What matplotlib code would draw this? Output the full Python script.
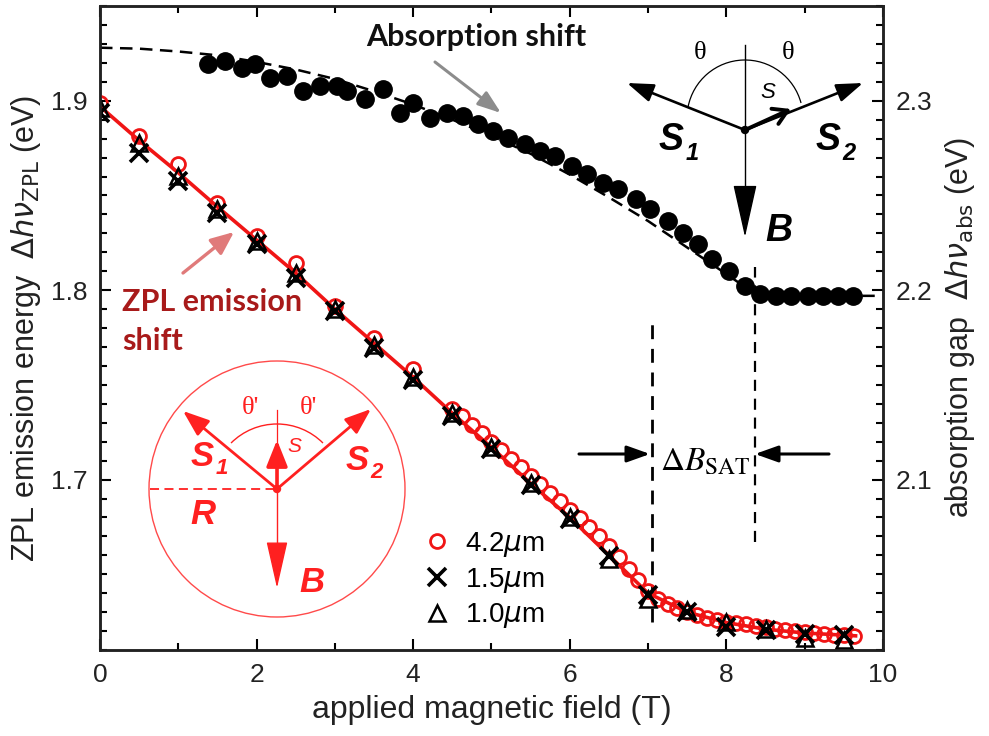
import matplotlib
matplotlib.use("Agg")
import matplotlib.pyplot as plt
from matplotlib.patches import Arc, Circle
from matplotlib.ticker import MultipleLocator, FormatStrFormatter

plt.rcParams["font.family"] = ["Liberation Sans", "DejaVu Sans"]

# --- ZPL emission energy (left axis, eV) ---
b_step = [0.0, 0.5, 1.0, 1.5, 2.0, 2.5, 3.0, 3.5, 4.0, 4.5,
          5.0, 5.5, 6.0, 6.5, 7.0, 7.5, 8.0, 8.5, 9.0, 9.5]
zpl_15 = [1.8937, 1.8725, 1.8577, 1.8407, 1.8243, 1.8063, 1.789, 1.7693, 1.7525, 1.7333,
          1.7162, 1.697, 1.679, 1.6598, 1.6392, 1.6302, 1.6222, 1.6206, 1.6185, 1.618]
zpl_10 = [1.896, 1.8778, 1.8603, 1.843, 1.826, 1.809, 1.790, 1.771, 1.754, 1.735,
          1.717, 1.698, 1.680, 1.658, 1.637, 1.631, 1.625, 1.621, 1.6165, 1.6155]

b_42 = [0.0, 0.5, 1.0, 1.5, 2.0, 2.5, 3.0, 3.5, 4.0, 4.5,
        4.625, 4.75, 4.875, 5.0, 5.125, 5.25, 5.375, 5.5, 5.625, 5.75,
        5.875, 6.0, 6.125, 6.25, 6.375, 6.5, 6.625, 6.75, 6.875, 7.0,
        7.125, 7.25, 7.375, 7.5, 7.625, 7.75, 7.875, 8.0, 8.125, 8.25,
        8.375, 8.5, 8.625, 8.75, 8.875, 9.0, 9.125, 9.25, 9.375, 9.5, 9.625]
zpl_42 = [1.899, 1.8815, 1.8667, 1.846, 1.8286, 1.8143, 1.7915, 1.7746, 1.7582, 1.737,
          1.7335, 1.729, 1.7245, 1.720, 1.7155, 1.711, 1.7065, 1.702, 1.6975, 1.693,
          1.6885, 1.684, 1.6795, 1.675, 1.670, 1.665, 1.659, 1.653, 1.647, 1.641,
          1.637, 1.6345, 1.632, 1.630, 1.6285, 1.627, 1.626, 1.625, 1.6242, 1.6235,
          1.6228, 1.622, 1.6213, 1.6207, 1.620, 1.6195, 1.619, 1.6185, 1.618, 1.6177, 1.6175]

b_zpl_fit = [0.0, 0.5, 1.0, 1.5, 2.0, 2.5, 3.0, 3.5, 4.0, 4.5,
             5.0, 5.5, 6.0, 6.5, 7.0, 7.5, 8.0, 8.5, 9.0, 9.65]
zpl_fit = [1.897, 1.879, 1.862, 1.844, 1.8265, 1.809, 1.790, 1.772, 1.754, 1.735,
           1.717, 1.698, 1.680, 1.660, 1.640, 1.630, 1.6245, 1.621, 1.619, 1.6175]

# --- absorption gap (right axis, eV) ---
b_abs = [1.38, 1.60, 1.81, 1.98, 2.17, 2.39, 2.59, 2.81, 3.03, 3.16,
         3.39, 3.62, 3.83, 4.00, 4.22, 4.43, 4.63, 4.83, 5.02, 5.21,
         5.43, 5.62, 5.81, 6.03, 6.22, 6.42, 6.62, 6.84, 7.03, 7.25,
         7.44, 7.64, 7.82, 8.03, 8.24, 8.43, 8.63, 8.82, 9.04, 9.23, 9.43, 9.62]
abs_gap = [2.3196, 2.3212, 2.3175, 2.3196, 2.3122, 2.3132, 2.3053, 2.3079, 2.3079, 2.3053,
           2.3011, 2.3063, 2.2937, 2.2989, 2.2910, 2.2937, 2.2921, 2.2878, 2.2841, 2.2804,
           2.2772, 2.2735, 2.2709, 2.2656, 2.2614, 2.2566, 2.2534, 2.2481, 2.2429, 2.2365,
           2.2302, 2.2243, 2.2164, 2.2101, 2.2021, 2.1979, 2.197, 2.197, 2.197, 2.197, 2.197, 2.197]

b_abs_fit = [0.0, 0.5, 1.0, 1.5, 2.0, 2.5, 3.0, 3.5, 4.0, 4.5,
             5.0, 5.5, 6.0, 6.5, 7.0, 7.5, 8.0, 8.4, 9.9]
abs_fit = [2.328, 2.3275, 2.326, 2.324, 2.3205, 2.3165, 2.3115, 2.305, 2.298, 2.290,
           2.2815, 2.272, 2.261, 2.249, 2.2365, 2.2225, 2.2085, 2.197, 2.197]

legend_labels = ["4.2$\\mu$m", "1.5$\\mu$m", "1.0$\\mu$m"]

# saturation field markers (left-axis units)
B_SAT_LO, B_SAT_HI = 7.05, 8.37

RED = "#f01515"

fig = plt.figure(figsize=(9.89, 7.36), dpi=100)
ax = fig.add_axes([0.1011, 0.1168, 0.7917, 0.875])
ax2 = ax.twinx()

ax.plot(b_zpl_fit, zpl_fit, color=RED, lw=2.6, zorder=2)
h42, = ax.plot(b_42, zpl_42, "o", ms=10, mfc="none", mec=RED, mew=2.0, zorder=3)
h10, = ax.plot(b_step, zpl_10, "^", ms=12, mfc="none", mec="k", mew=1.8, zorder=4)
h15, = ax.plot(b_step, zpl_15, "x", ms=13, mec="k", mew=2.6, zorder=5)

ax2.plot(b_abs_fit, abs_fit, color="k", lw=1.8, ls=(0, (5, 3)), zorder=2)
ax2.plot(b_abs, abs_gap, "o", ms=12.5, color="k", zorder=3)

ax.plot([B_SAT_LO, B_SAT_LO], [1.625, 1.784], color="k", lw=2.0, ls=(0, (5, 3.5)))
ax.plot([B_SAT_HI, B_SAT_HI], [1.667, 1.812], color="k", lw=1.6, ls=(0, (5, 3.5)))

ax.set_xlim(0, 10)
ax.set_ylim(1.61, 1.95)
ax2.set_ylim(2.01, 2.35)

ax.xaxis.set_major_locator(MultipleLocator(2))
ax.xaxis.set_minor_locator(MultipleLocator(1))
for a in (ax, ax2):
    a.yaxis.set_major_locator(MultipleLocator(0.1))
    a.yaxis.set_minor_locator(MultipleLocator(0.01))
    a.yaxis.set_major_formatter(FormatStrFormatter("%.1f"))
    for s in a.spines.values():
        s.set_linewidth(1.8)
        s.set_color("#222222")

ax.tick_params(which="both", direction="in", top=True, right=False, width=1.5,
               labelsize=19, labelcolor="#222222", pad=9)
ax.tick_params(which="major", length=8)
ax.tick_params(which="minor", length=5)
ax2.tick_params(which="both", direction="in", width=1.5, labelsize=19,
                labelcolor="#222222", pad=9)
ax2.tick_params(which="major", length=8)
ax2.tick_params(which="minor", length=5)

ax.set_xlabel("applied magnetic field (T)", fontsize=23, color="#222222", labelpad=6)
ax.set_ylabel("ZPL emission energy  $\\Delta h\\nu_{\\rm ZPL}$ (eV)", fontsize=22,
              color="#222222", labelpad=6)
ax2.set_ylabel("absorption gap  $\\Delta h\\nu_{\\rm abs}$ (eV)", fontsize=22,
               color="#222222", labelpad=8)

leg = ax.legend([h42, h15, h10], legend_labels, loc="upper left",
                bbox_to_anchor=(0.413, 0.187), frameon=False, fontsize=20,
                handlelength=1.0, handletextpad=0.5, labelspacing=0.25,
                borderpad=0, borderaxespad=0)

# ---- overlay in reference pixel coordinates for the sketches ----
ov = fig.add_axes([0, 0, 1, 1], zorder=10)
ov.set_xlim(0, 989)
ov.set_ylim(736, 0)
ov.axis("off")


def arrow(p0, p1, color, lw, style="-|>", hl=1.0, hw=0.35, ms=20):
    ov.annotate("", xy=p1, xytext=p0,
                arrowprops=dict(arrowstyle=f"{style},head_length={hl},head_width={hw}",
                                lw=lw, color=color, mutation_scale=ms,
                                shrinkA=0, shrinkB=0))


# labels with arrows
ov.text(476, 37, "Absorption shift", fontsize=22, fontweight="bold",
        family="Lato", color="#111111", ha="center", va="center")
arrow((435, 62), (501, 113), "#8c8c8c", 2.2, hl=0.7, hw=0.25)
ov.text(122, 302, "ZPL emission", fontsize=22, fontweight="bold",
        family="Lato", color="#a81a1a", ha="left", va="center")
ov.text(122, 341, "shift", fontsize=22, fontweight="bold",
        family="Lato", color="#a81a1a", ha="left", va="center")
arrow((183, 273), (234, 232), "#e07a7a", 2.4, hl=0.7, hw=0.3)

# Delta B_SAT
ov.text(705, 462, "$\\Delta B_{\\mathrm{SAT}}$", fontsize=24, color="k",
        ha="center", va="center", math_fontfamily="stix")
arrow((579, 454), (650, 454), "k", 2.2, hl=0.7, hw=0.25)
arrow((829, 454), (755, 454), "k", 2.2, hl=0.7, hw=0.25)

# black spin sketch (top right)
c = (745, 130)
ov.plot([745, 745], [45, 205], color="k", lw=1.0)
arrow((745, 200), (745, 237), "k", 1.0, hl=1.7, hw=0.38)
arrow(c, (627, 83), "k", 1.9, hl=0.8, hw=0.28)
arrow(c, (863, 83), "k", 1.9, hl=0.8, hw=0.28)
arrow(c, (791, 109), "k", 2.8, style="->", hl=0.5, hw=0.3)
ov.add_patch(Arc((745, 118), 116, 116, theta1=191, theta2=345, color="k", lw=0.9))
ov.add_patch(Circle(c, 3.5, color="k"))
ov.text(700, 53, "θ", fontsize=19, family="Liberation Serif", ha="center", va="center")
ov.text(788, 53, "θ", fontsize=19, family="Liberation Serif", ha="center", va="center")
ov.text(768, 92, "S", fontsize=16, style="italic", ha="center", va="center")
ov.text(671, 140, "S", fontsize=27, style="italic", fontweight="bold", ha="center", va="center")
ov.text(692, 153, "1", fontsize=17, style="italic", fontweight="bold", ha="center", va="center")
ov.text(828, 140, "S", fontsize=27, style="italic", fontweight="bold", ha="center", va="center")
ov.text(849, 153, "2", fontsize=17, style="italic", fontweight="bold", ha="center", va="center")
ov.text(779, 231, "B", fontsize=27, style="italic", fontweight="bold", ha="center", va="center")

# red spin sketch (bottom left)
RS = "#ff2020"
rc = (277, 489)
ov.add_patch(Circle(rc, 128, fill=False, ec="#ff4a4a", lw=1.0))
ov.plot([150, 277], [489, 489], color=RS, lw=1.3, ls=(0, (5, 3)))
ov.plot([277, 277], [410, 489], color=RS, lw=0.9)
ov.plot([277, 277], [489, 560], color=RS, lw=1.0)
arrow((277, 555), (277, 588), RS, 1.0, hl=1.5, hw=0.34)
arrow(rc, (183, 411), RS, 2.0, hl=0.8, hw=0.3)
arrow(rc, (371, 409), RS, 2.0, hl=0.8, hw=0.3)
arrow(rc, (277, 440), RS, 2.6, hl=0.8, hw=0.32)
ov.add_patch(Arc(rc, 130, 130, theta1=225, theta2=315, color=RS, lw=1.0))
ov.add_patch(Circle(rc, 3.5, color=RS))
ov.text(250, 408, "θ'", fontsize=19, family="Liberation Serif", color=RS, ha="center", va="center")
ov.text(308, 408, "θ'", fontsize=19, family="Liberation Serif", color=RS, ha="center", va="center")
ov.text(294, 446, "S", fontsize=15, style="italic", color=RS, ha="center", va="center")
ov.text(202, 456, "S", fontsize=25, style="italic", fontweight="bold", color=RS, ha="center", va="center")
ov.text(222, 469, "1", fontsize=16, style="italic", fontweight="bold", color=RS, ha="center", va="center")
ov.text(357, 460, "S", fontsize=25, style="italic", fontweight="bold", color=RS, ha="center", va="center")
ov.text(377, 473, "2", fontsize=16, style="italic", fontweight="bold", color=RS, ha="center", va="center")
ov.text(203, 515, "R", fontsize=25, style="italic", fontweight="bold", color=RS, ha="center", va="center")
ov.text(312, 582, "B", fontsize=25, style="italic", fontweight="bold", color=RS, ha="center", va="center")

fig.savefig("out.png", dpi=100)
